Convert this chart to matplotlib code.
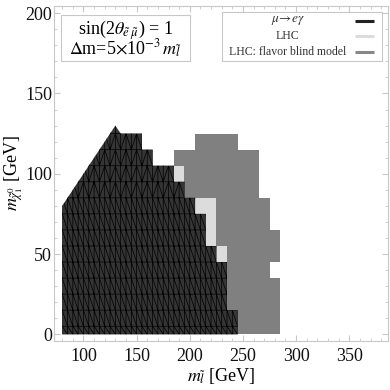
import numpy as np
import matplotlib
matplotlib.use("Agg")
import matplotlib.pyplot as plt
import matplotlib.tri as mtri
from matplotlib.patches import Polygon, Rectangle
from matplotlib.colors import ListedColormap

plt.rcParams['font.family'] = ['Liberation Serif', 'DejaVu Serif']
plt.rcParams['mathtext.fontset'] = 'stix'

# rows of the scan (neutralino mass, GeV), cells are 10 GeV tall
rows_y = [0, 10, 20, 30, 40, 50, 60, 70, 80, 90, 100, 110, 120]
# right edge of the mu -> e gamma excluded region per row
black_edge = [245, 245, 235, 235, 235, 225, 215, 215, 205, 195, 185, 165, 155]
# LHC excluded region per row (left part hidden under mu -> e gamma)
lhc_lo = [80, 80, 80, 80, 80, 80, 80, 80, 150, 150, 150, 150, 150]
lhc_edge = [235, 235, 235, 235, 235, 235, 225, 225, 225, 195, 195, 165, 155]
# flavor blind LHC region per row
flavor_lo = [80, 80, 80, 80, 80, 80, 80, 80, 150, 150, 150, 185, 205]
flavor_hi = [285, 285, 285, 285, 275, 285, 285, 275, 275, 265, 265, 265, 245]
# corners of the mu -> e gamma region
black_left = 80
black_corner = (80, 80)
black_peak = (130, 130)

fig = plt.figure(figsize=(3.9, 3.9), dpi=100)
ax = fig.add_axes([0.1385, 0.1256, 0.8565, 0.859])

# gray / light gray cells
x_edges = np.arange(75, 300, 10)
x_cent = x_edges[:-1] + 5
y_edges = np.array([0] + [y + 5 for y in rows_y])
Z = np.full((len(rows_y), len(x_cent)), np.nan)
for i in range(len(rows_y)):
    Z[i, (x_cent > flavor_lo[i]) & (x_cent < flavor_hi[i])] = 1
    Z[i, (x_cent > lhc_lo[i]) & (x_cent < lhc_edge[i])] = 2
cmap = ListedColormap(['#808080', '#dcdcdc'])
ax.pcolormesh(x_edges, y_edges, Z, cmap=cmap, vmin=0.5, vmax=2.5, shading='flat')

# mu -> e gamma region polygon
verts = [(black_left, 0)]
for i, y in enumerate(rows_y):
    lo = max(y - 5, 0)
    verts.append((black_edge[i], lo))
    verts.append((black_edge[i], y + 5))
top = rows_y[-1] + 5
verts.append((black_peak[0] + (black_peak[1] - top), top))
verts.append(black_peak)
verts.append(black_corner)
poly = Polygon(verts, closed=True, facecolor='#353535', edgecolor='none', zorder=3)
ax.add_patch(poly)

# triangular mesh, clipped to the region
xs = np.arange(black_left, max(black_edge) + 5, 5)
ys = np.array([0] + [y + 5 for y in rows_y] + [top + 10])
X, Y = np.meshgrid(xs, ys)
nx = len(xs)
tris = []
for j in range(len(ys) - 1):
    for i in range(nx - 1):
        bl = j * nx + i
        br = bl + 1
        tl = bl + nx
        tr = tl + 1
        if ys[j] >= 85 and i % 2 == 1:
            tris += [[bl, br, tr], [bl, tr, tl]]
        else:
            tris += [[tl, bl, br], [tl, br, tr]]
tri = mtri.Triangulation(X.ravel(), Y.ravel(), tris)
lines = ax.triplot(tri, color='black', lw=0.5, zorder=4)
for ln in lines:
    ln.set_clip_path(poly)

ax.set_xlim(72.3, 386.5)
ax.set_ylim(-4.2, 204.5)

# frame and ticks
for s in ax.spines.values():
    s.set_color('#c8c8c8')
    s.set_linewidth(0.8)
ax.set_xticks([100, 150, 200, 250, 300, 350])
ax.set_yticks([0, 50, 100, 150, 200])
ax.set_xticks(np.arange(80, 390, 10), minor=True)
ax.set_yticks(np.arange(0, 205, 10), minor=True)
ax.tick_params(which='both', direction='in', top=True, right=True,
               color='#c8c8c8', labelsize=13, labelcolor='#111111')
ax.tick_params(which='major', length=4, width=0.8)
ax.tick_params(which='minor', length=2, width=0.6)
ax.tick_params(axis='x', pad=5)
ax.tick_params(axis='y', pad=1.5)

ax.set_xlabel(r'$m_{\tilde{l}}$ [GeV]', fontsize=13, labelpad=1)
ax.set_ylabel(r'$m_{\tilde{\chi}^0_1}$ [GeV]', fontsize=13, labelpad=0)

# text box
ax.add_patch(Rectangle((0.021, 0.836), 0.386, 0.137, transform=ax.transAxes,
                       facecolor='white', edgecolor='#c8c8c8', lw=0.8, zorder=5))
ax.text(0.214, 0.929, r'sin(2$\theta_{\tilde{e}\;\tilde{\mu}}$) = 1', transform=ax.transAxes,
        ha='center', va='center', fontsize=13, zorder=6)
ax.text(0.214, 0.871, r'$\Delta$m=5$\times$10$^{-3}$$\,m_{\tilde{l}}$', transform=ax.transAxes,
        ha='center', va='center', fontsize=13, zorder=6)

# legend
ax.add_patch(Rectangle((0.503, 0.836), 0.479, 0.146, transform=ax.transAxes,
                       facecolor='white', edgecolor='#c8c8c8', lw=0.8, zorder=5))
labels = [r'$\mu\!\rightarrow\! e\gamma$', 'LHC', 'LHC: flavor blind model']
sizes = [9.5, 8.5, 8.5]
colors = ['#222222', '#dcdcdc', '#888888']
rows = [0.956, 0.910, 0.863]
for lab, fs, c, yy in zip(labels, sizes, colors, rows):
    ax.text(0.70, yy, lab, transform=ax.transAxes, ha='center', va='center',
            fontsize=fs, color='#333333', zorder=6)
    ax.plot([0.901, 0.958], [yy, yy], transform=ax.transAxes, color=c, lw=2.2,
            zorder=6, solid_capstyle='butt')

fig.savefig('out.png', dpi=100)
